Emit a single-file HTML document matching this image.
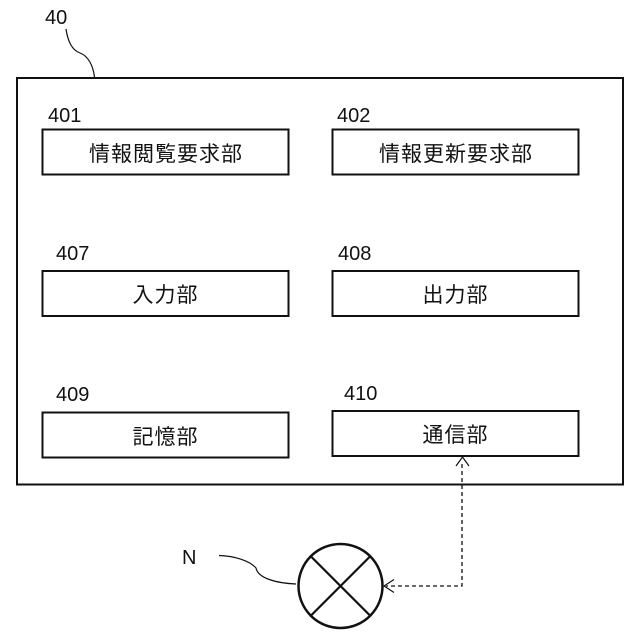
<!DOCTYPE html>
<html><head><meta charset="utf-8">
<style>html,body{margin:0;padding:0;background:#fff}svg{display:block}
text{font-family:"Liberation Sans","Noto Sans CJK JP",sans-serif;fill:#111}
.n{font-size:20px}.j{font-size:21px;text-anchor:middle;letter-spacing:1px}</style></head>
<body>
<svg width="640" height="640" viewBox="0 0 640 640" xmlns="http://www.w3.org/2000/svg">
<g fill="none" stroke="#111">
<rect x="17" y="78" width="606" height="406.5" stroke-width="2"/>
<rect x="42.5" y="129.5" width="246" height="45" stroke-width="2"/>
<rect x="332.5" y="129.5" width="246" height="45" stroke-width="2"/>
<rect x="42.5" y="271" width="246" height="45" stroke-width="2"/>
<rect x="332.5" y="271" width="246" height="45" stroke-width="2"/>
<rect x="42.5" y="412.5" width="246" height="45" stroke-width="2"/>
<rect x="332.5" y="411" width="246" height="45" stroke-width="2"/>
<path d="M66 29C68 42 72 50 80 53C88 56 93 65 94.500 77" stroke-width="1.200"/>
<path d="M219 555.500C235 556 250 561 256 568C258 578 275 583 296 584" stroke-width="1.200"/>
<circle cx="340.500" cy="586" r="42" stroke-width="2.500"/>
<path d="M311 556.500L370 615.500M370 556.500L311 615.500" stroke-width="2.200"/>
<path d="M462 464V586H386" stroke-width="1.300" stroke-dasharray="4 3"/>
<path d="M456 466L462.500 457L469 466M394 579.500L384 586L394 592.500" stroke-width="1.200"/>
</g>
<text class="n" x="45" y="24">40</text>
<text class="n" x="48" y="122">401</text>
<text class="n" x="337" y="122">402</text>
<text class="n" x="56" y="260">407</text>
<text class="n" x="338" y="260">408</text>
<text class="n" x="56" y="401">409</text>
<text class="n" x="344" y="400">410</text>
<text class="n" x="182" y="564">N</text>
<text class="j" x="166" y="161">情報閲覧要求部</text>
<text class="j" x="456" y="161">情報更新要求部</text>
<text class="j" x="165.500" y="302">入力部</text>
<text class="j" x="455.500" y="302">出力部</text>
<text class="j" x="165.500" y="444">記憶部</text>
<text class="j" x="455.500" y="442">通信部</text>
</svg>
</body></html>
